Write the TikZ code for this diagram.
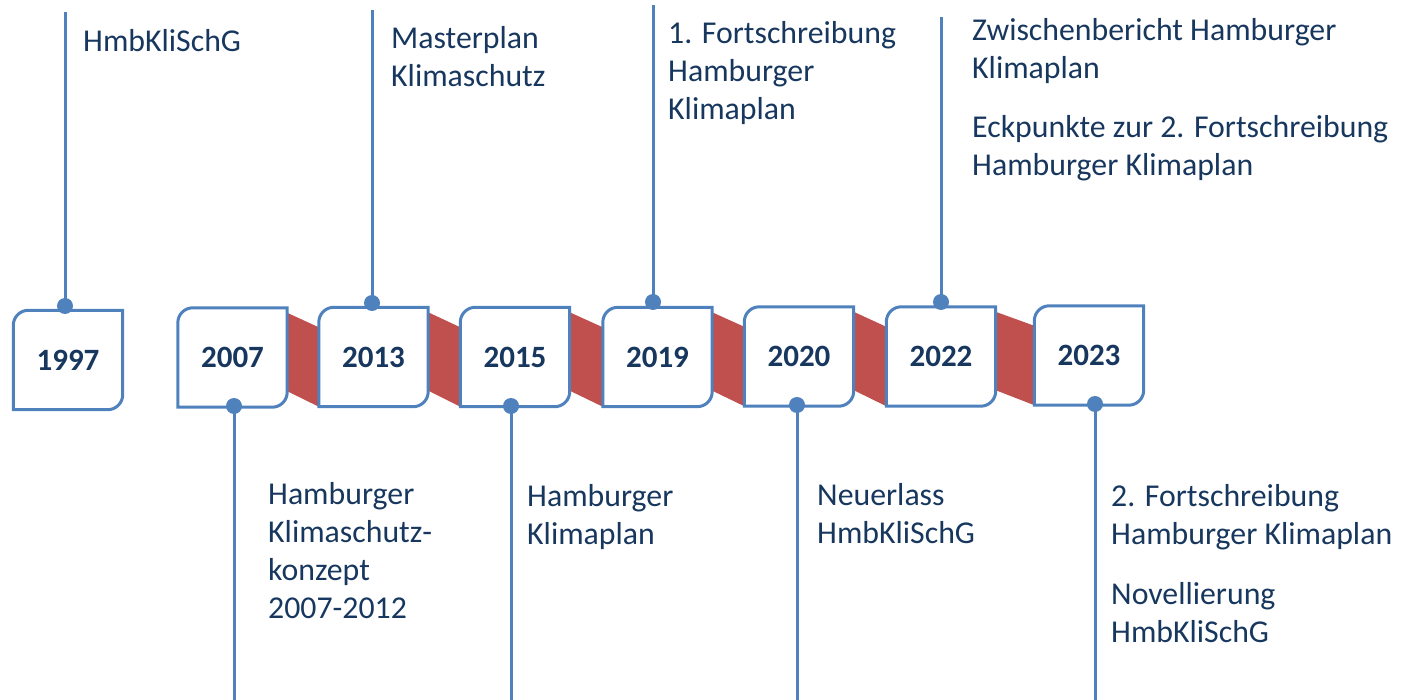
\documentclass[tikz,border=0pt]{standalone}
\usepackage{fontspec}
\setmainfont{Carlito}
\usetikzlibrary{backgrounds}

\definecolor{lineblue}{RGB}{79,129,189}
\definecolor{textblue}{RGB}{23,55,94}
\definecolor{ribbonred}{RGB}{192,80,77}

\tikzset{
  yearbox/.style={minimum width=109pt, minimum height=99pt, inner sep=0pt,
    text=textblue, font=\fontsize{31}{37}\selectfont\bfseries},
  boxline/.style={draw=lineblue, line width=3pt, fill=white},
  ribbon/.style={fill=ribbonred},
  stem/.style={draw=lineblue, line width=3pt},
  pin/.style={circle, fill=lineblue, minimum size=16pt, inner sep=0pt},
  % multi-line texts: the base anchor sits on the last line
  event/.style={anchor=base west, inner sep=0pt, align=left, text=textblue,
    font=\fontsize{31.8}{38}\selectfont},
}

% outline of a year box: rounded top-left and bottom-right corners
\newcommand\yearoutline[1]{%
  \draw[boxline] (#1.south west)
    -- ([yshift=-15pt]#1.north west)
    .. controls ([yshift=-6.7pt]#1.north west) and ([xshift=6.7pt]#1.north west)
    .. ([xshift=15pt]#1.north west)
    -- (#1.north east)
    -- ([yshift=15pt]#1.south east)
    .. controls ([yshift=6.7pt]#1.south east) and ([xshift=-6.7pt]#1.south east)
    .. ([xshift=-15pt]#1.south east)
    -- cycle;}

% red band between two neighbouring boxes
\newcommand\band[2]{%
  \fill[ribbon] ([yshift=-5pt]#1.north east)
    -- ([yshift=-20pt]#2.north west)
    -- (#2.south west)
    -- ([yshift=16pt]#1.south east) -- cycle;}

\begin{document}
\begin{tikzpicture}[x=1pt, y=-1pt]
\useasboundingbox (0,0) rectangle (1402,700);

% year boxes
\node[yearbox] (y1997) at (68,360)     {1997};
\node[yearbox] (y2007) at (232.5,357.5) {2007};
\node[yearbox] (y2013) at (373.5,357)   {2013};
\node[yearbox] (y2015) at (515,357)     {2015};
\node[yearbox] (y2019) at (657.5,357)   {2019};
\node[yearbox] (y2020) at (799,356.5)   {2020};
\node[yearbox] (y2022) at (941,356.5)   {2022};
\node[yearbox] (y2023) at (1089,355.5)  {2023};

\begin{scope}[on background layer]
  \band{y2007}{y2013}
  \band{y2013}{y2015}
  \band{y2015}{y2019}
  \band{y2019}{y2020}
  \band{y2020}{y2022}
  \band{y2022}{y2023}
  \yearoutline{y1997}
  \yearoutline{y2007}
  \yearoutline{y2013}
  \yearoutline{y2015}
  \yearoutline{y2019}
  \yearoutline{y2020}
  \yearoutline{y2022}
  \yearoutline{y2023}
\end{scope}

% pins on the boxes and the stems leading to the event texts
\node[pin] (p1997) at (65,306)   {};
\node[pin] (p2007) at (234,406)  {};
\node[pin] (p2013) at (372,303)  {};
\node[pin] (p2015) at (511,406)  {};
\node[pin] (p2019) at (653,302)  {};
\node[pin] (p2020) at (797,405)  {};
\node[pin] (p2022) at (941,302)  {};
\node[pin] (p2023) at (1095,404) {};

\coordinate (s1997) at (65,12);
\coordinate (s2007) at (234,700);
\coordinate (s2013) at (372,10);
\coordinate (s2015) at (511,700);
\coordinate (s2019) at (653,5);
\coordinate (s2020) at (797,700);
\coordinate (s2022) at (941,17);
\coordinate (s2023) at (1095,700);

\foreach \y in {1997,2007,2013,2015,2019,2020,2022,2023}
  \draw[stem] (p\y.center) -- (s\y);

% event texts (positioned by the baseline of their last line)
\node[event] (e1997) at (83,52)    {HmbKliSchG};
\node[event] (e2013) at (391,87)   {Masterplan\\Klimaschutz};
\node[event] (e2019) at (668,120)  {1. Fortschreibung\\Hamburger\\Klimaplan};
\node[event] (e2022) at (972,176)  {Zwischenbericht Hamburger\\Klimaplan\\[21pt]Eckpunkte zur 2. Fortschreibung\\Hamburger Klimaplan};
\node[event] (e2007) at (268,618)  {Hamburger\\Klimaschutz-\\konzept\\2007-2012};
\node[event] (e2015) at (527,544)  {Hamburger\\Klimaplan};
\node[event] (e2020) at (817,543)  {Neuerlass\\HmbKliSchG};
\node[event] (e2023) at (1111,642) {2. Fortschreibung\\Hamburger Klimaplan\\[22pt]Novellierung\\HmbKliSchG};
\end{tikzpicture}
\end{document}
